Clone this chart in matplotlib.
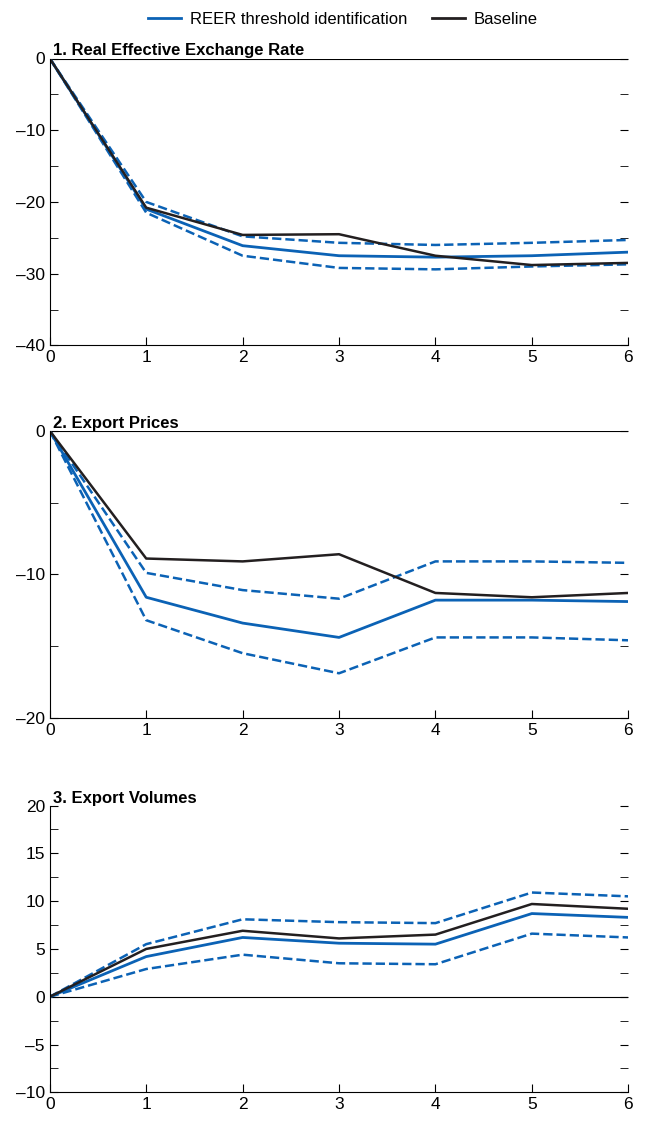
import matplotlib
matplotlib.use("Agg")
import matplotlib.pyplot as plt
from matplotlib.lines import Line2D

plt.rcParams["font.family"] = ["Liberation Sans Narrow", "Liberation Sans", "DejaVu Sans"]

x = [0, 1, 2, 3, 4, 5, 6]

reer_blue = [0, -21.0, -26.1, -27.5, -27.7, -27.5, -27.0]
reer_up = [0, -20.0, -24.8, -25.7, -26.0, -25.7, -25.3]
reer_lo = [0, -21.5, -27.5, -29.2, -29.4, -29.0, -28.7]
reer_base = [0, -20.8, -24.6, -24.5, -27.5, -28.8, -28.5]

px_blue = [0, -11.6, -13.4, -14.4, -11.8, -11.8, -11.9]
px_up = [0, -9.9, -11.1, -11.7, -9.1, -9.1, -9.2]
px_lo = [0, -13.2, -15.5, -16.9, -14.4, -14.4, -14.6]
px_base = [0, -8.9, -9.1, -8.6, -11.3, -11.6, -11.3]

vol_blue = [0, 4.2, 6.2, 5.6, 5.5, 8.7, 8.3]
vol_up = [0, 5.5, 8.1, 7.8, 7.7, 10.9, 10.5]
vol_lo = [0, 2.9, 4.4, 3.5, 3.4, 6.6, 6.2]
vol_base = [0, 5.0, 6.9, 6.1, 6.5, 9.7, 9.2]

BLUE = "#0b62b5"
panels = [
    ("1. Real Effective Exchange Rate", reer_blue, reer_up, reer_lo, reer_base, (-40, 0), 10, [0.948, 0.693]),
    ("2. Export Prices", px_blue, px_up, px_lo, px_base, (-20, 0), 10, [0.617, 0.362]),
    ("3. Export Volumes", vol_blue, vol_up, vol_lo, vol_base, (-10, 20), 5, [0.284, 0.029]),
]

fig = plt.figure(figsize=(6.47, 11.25), dpi=100)
for title, b, up, lo, base, ylim, step, (top, bot) in panels:
    ax = fig.add_axes([0.077, bot, 0.894, top - bot])
    ax.axhline(0, color="black", lw=0.8)
    ax.plot(x, up, "--", color=BLUE, lw=1.8)
    ax.plot(x, lo, "--", color=BLUE, lw=1.8)
    ax.plot(x, b, "-", color=BLUE, lw=2.0)
    ax.plot(x, base, "-", color="#231f20", lw=1.8)
    ax.set_xlim(0, 6)
    ax.set_ylim(*ylim)
    ax.set_xticks(x)
    ax.set_yticks(range(ylim[0], ylim[1] + 1, step))
    ax.set_yticks([v + step / 2 for v in range(ylim[0], ylim[1], step)], minor=True)
    ax.set_yticklabels([str(v).replace("-", "\u2013") for v in range(ylim[0], ylim[1] + 1, step)])
    for s in ["top", "right"]:
        ax.spines[s].set_visible(False)
    ax.tick_params(axis="y", which="both", left=True, right=True, direction="in", length=6, labelsize=12.5)
    ax.tick_params(axis="x", direction="in", length=6, labelsize=12.5)
    ax.text(0.005, 1.0, title, transform=ax.transAxes, fontsize=12, fontweight="bold", va="bottom", ha="left")

handles = [Line2D([], [], color=BLUE, lw=2), Line2D([], [], color="#231f20", lw=2)]
fig.legend(handles, ["REER threshold identification", "Baseline"], loc="upper center",
           bbox_to_anchor=(0.53, 1.003), ncol=2, frameon=False, fontsize=12,
           handlelength=2.0, columnspacing=1.5, handletextpad=0.5)
fig.savefig("out.png", dpi=100)
